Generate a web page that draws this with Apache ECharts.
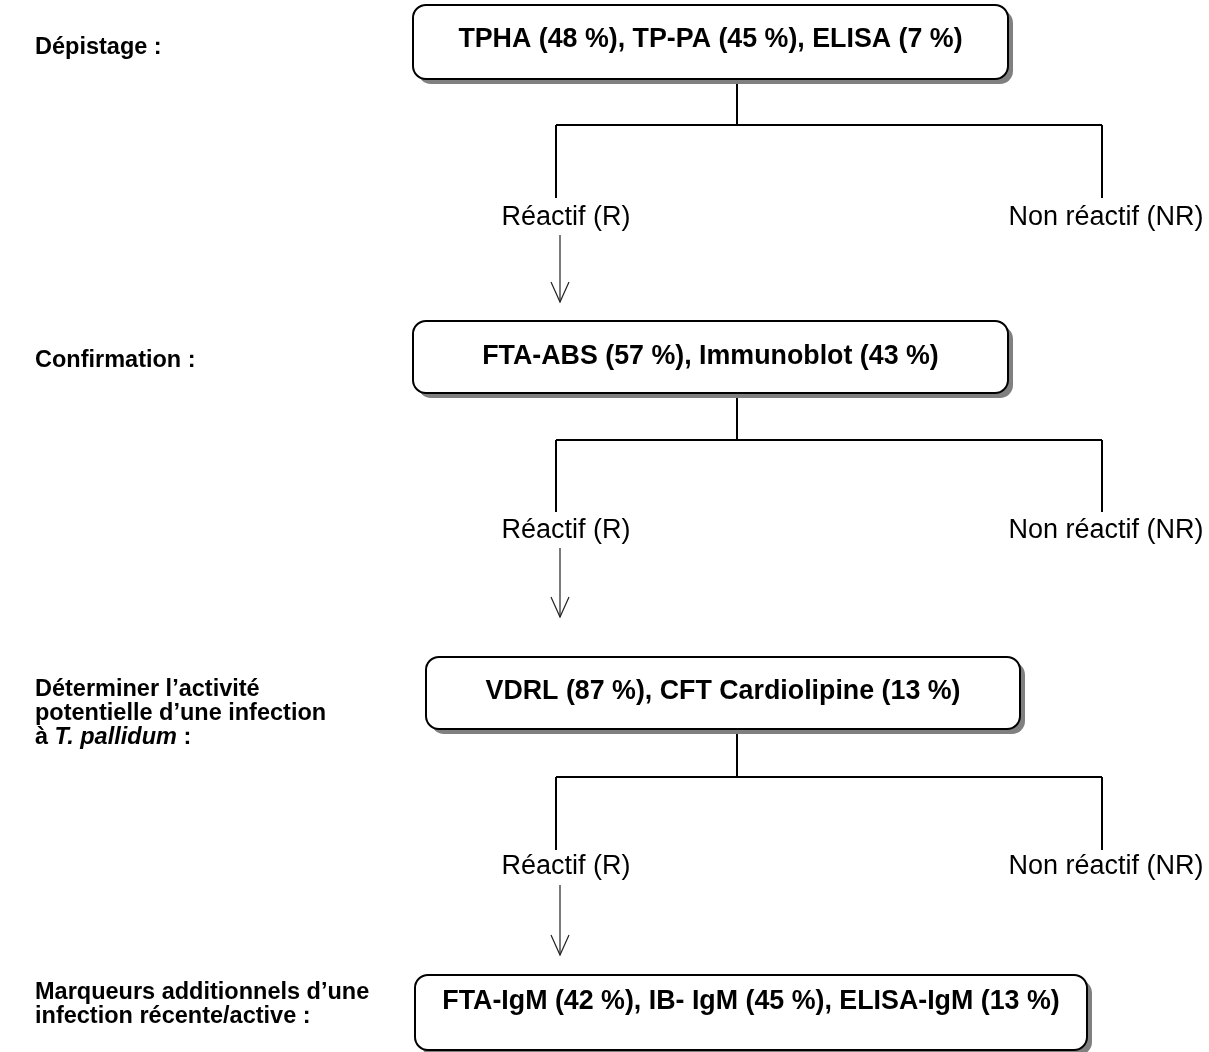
<!DOCTYPE html>
<html>
<head>
<meta charset="utf-8">
<script src="https://cdn.jsdelivr.net/npm/echarts@6/dist/echarts.min.js"></script>
<style>html,body{margin:0;padding:0;background:#fff}#c{width:1209px;height:1052px}</style>
</head>
<body>
<div id="c"></div>
<script>
// ---- content ----
const boxLabels = [
  'TPHA (48 %), TP-PA (45 %), ELISA (7 %)',
  'FTA-ABS (57 %), Immunoblot (43 %)',
  'VDRL (87 %), CFT Cardiolipine (13 %)',
  'FTA-IgM (42 %), IB- IgM (45 %), ELISA-IgM (13 %)'
];
const stageLabels = [
  ['Dépistage :'],
  ['Confirmation :'],
  ['Déterminer l’activité', 'potentielle d’une infection', '{it|à }{iti|T. pallidum}{it| :}'],
  ['Marqueurs additionnels d’une', 'infection récente/active :']
];
const branchLabels = ['Réactif (R)', 'Non réactif (NR)'];

// ---- layout (positions in page units) ----
const boxRects = [[413, 5, 1008, 79], [413, 321, 1008, 393], [426, 657, 1020, 729], [415, 975, 1087, 1050]];
const boxTextY = [40, 357, 692, 1002];
const stageY = [48, 361, 714, 1005];
const trunkX = 737, leftX = 556, rightX = 1102;
const branchY = [125, 440, 777];
const dropEnd = [198, 512, 850];
const labelY = [218, 531, 867];
const arrowSpan = [[235, 302], [548, 617], [885, 955]];

const chart = echarts.init(document.getElementById('c'));
const FONT = '"Liberation Sans", Arial, sans-serif';
const BOXFONT = 'bold 26.8px ' + FONT;
const STAGEFONT = 'bold 23.5px ' + FONT;
const BRANCHFONT = '27px ' + FONT;

function boxItem(params, api) {
  const i = params.dataIndex;
  const r = boxRects[i];
  const p0 = api.coord([r[0], r[1]]);
  const p1 = api.coord([r[2], r[3]]);
  const w = p1[0] - p0[0], h = p1[1] - p0[1];
  const t = api.coord([(r[0] + r[2]) / 2, boxTextY[i]]);
  return {
    type: 'group',
    children: [
      {type: 'rect', shape: {x: p0[0] + 5, y: p0[1] + 5, width: w, height: h, r: 13}, style: {fill: '#808080'}},
      {type: 'rect', shape: {x: p0[0], y: p0[1], width: w, height: h, r: 13}, style: {fill: '#fff', stroke: '#000', lineWidth: 2}},
      {type: 'text', x: t[0], y: t[1], style: {text: boxLabels[i], font: BOXFONT, fill: '#000', align: 'center', verticalAlign: 'middle'}}
    ]
  };
}

function connItem(params, api) {
  const i = params.dataIndex;
  const c = (x, y) => api.coord([x, y]);
  const line = (a, b, lw, col) => ({type: 'line', shape: {x1: a[0], y1: a[1], x2: b[0], y2: b[1]}, style: {stroke: col || '#000', lineWidth: lw || 2}});
  const top = boxRects[i][3];
  const a0 = c(leftX + 4, arrowSpan[i][0]), a1 = c(leftX + 4, arrowSpan[i][1]);
  const lt = c(leftX + 10, labelY[i]), rt = c(rightX + 4, labelY[i]);
  return {
    type: 'group',
    children: [
      line(c(trunkX, top), c(trunkX, branchY[i])),
      line(c(leftX, branchY[i]), c(rightX, branchY[i])),
      line(c(leftX, branchY[i]), c(leftX, dropEnd[i])),
      line(c(rightX, branchY[i]), c(rightX, dropEnd[i])),
      line(a0, a1, 1.2, '#222'),
      {type: 'polyline', shape: {points: [[a1[0] - 9, a1[1] - 20], a1, [a1[0] + 9, a1[1] - 20]]}, style: {stroke: '#222', lineWidth: 1.2, fill: null}},
      {type: 'text', x: lt[0], y: lt[1], style: {text: branchLabels[0], font: BRANCHFONT, fill: '#000', align: 'center', verticalAlign: 'middle'}},
      {type: 'text', x: rt[0], y: rt[1], style: {text: branchLabels[1], font: BRANCHFONT, fill: '#000', align: 'center', verticalAlign: 'middle'}}
    ]
  };
}

function stageItem(params, api) {
  const i = params.dataIndex;
  const p = api.coord([35, stageY[i]]);
  return {
    type: 'text', x: p[0], y: p[1],
    style: {
      text: stageLabels[i].join('\n'), font: STAGEFONT, fill: '#000',
      align: 'left', verticalAlign: 'middle', lineHeight: 24,
      rich: {it: {font: STAGEFONT, lineHeight: 24}, iti: {font: 'italic ' + STAGEFONT, lineHeight: 24}}
    }
  };
}

chart.setOption({
  animation: false,
  grid: {left: 0, right: 0, top: 0, bottom: 0},
  xAxis: {type: 'value', min: 0, max: 1209, show: false},
  yAxis: {type: 'value', min: 0, max: 1052, inverse: true, show: false},
  series: [
    {type: 'custom', renderItem: connItem, data: branchY.map((v, i) => i), silent: true},
    {type: 'custom', renderItem: boxItem, data: boxLabels.map((v, i) => i), silent: true},
    {type: 'custom', renderItem: stageItem, data: stageLabels.map((v, i) => i), silent: true}
  ]
});
</script>
</body>
</html>
